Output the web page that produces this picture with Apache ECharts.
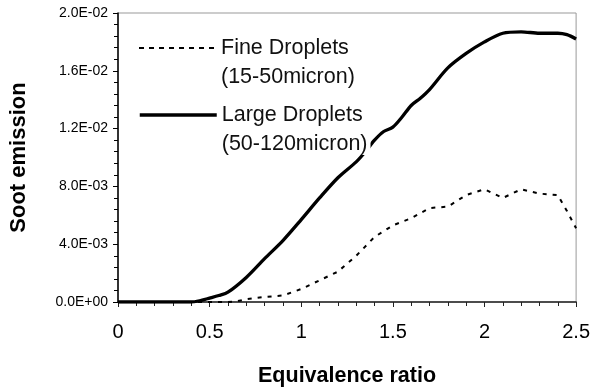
<!DOCTYPE html>
<html>
<head>
<meta charset="utf-8">
<script src="https://cdn.jsdelivr.net/npm/echarts@6/dist/echarts.min.js"></script>
<style>
  html, body { margin: 0; padding: 0; background: #fff; }
  #chart { width: 593px; height: 392px; }
</style>
</head>
<body>
<div id="chart"></div>
<script>
// equivalence ratio values for each curve
var fineX = [0, 0.1, 0.2, 0.3, 0.4, 0.5, 0.6, 0.65, 0.7, 0.8, 0.9, 1.0, 1.1, 1.2, 1.3, 1.4, 1.5, 1.6, 1.7, 1.8, 1.9, 2.0, 2.1, 2.2, 2.3, 2.4, 2.45, 2.5];
var fineY = [0, 0, 0, 0, 0, 0, 0, 0.00005, 0.0002, 0.00035, 0.00045, 0.0009, 0.0015, 0.0021, 0.0032, 0.0045, 0.0053, 0.0058, 0.0065, 0.0066, 0.0074, 0.0078, 0.0072, 0.0078, 0.0075, 0.0074, 0.0063, 0.0051];

var largeX = [0, 0.1, 0.2, 0.3, 0.4, 0.45, 0.5, 0.55, 0.6, 0.7, 0.8, 0.9, 1.0, 1.1, 1.2, 1.3, 1.35, 1.4, 1.45, 1.5, 1.55, 1.6, 1.65, 1.7, 1.8, 1.9, 2.0, 2.1, 2.2, 2.3, 2.4, 2.45, 2.5];
var largeY = [0, 0, 0, 0, 0, 0.0001, 0.00027, 0.00045, 0.00068, 0.0017, 0.0030, 0.00425, 0.0057, 0.0072, 0.0086, 0.0097, 0.0104, 0.0112, 0.0118, 0.0121, 0.0128, 0.0136, 0.0141, 0.0147, 0.0162, 0.0172, 0.0180, 0.0186, 0.0187, 0.0186, 0.0186, 0.0185, 0.0182];

var yTickLabels = ['0.0E+00', '4.0E-03', '8.0E-03', '1.2E-02', '1.6E-02', '2.0E-02'];

var fineName = 'Fine Droplets';
var largeName = 'Large Droplets';
// blank first line keeps the icon level with the first text line
var legendText = {
    'Fine Droplets': '{b| }\n{w|Fine Droplets}\n{w|(15-50micron)}',
    'Large Droplets': '{b| }\n{w|Large Droplets}\n{w|(50-120micron)}'
};

function pairs(xs, ys) {
    var out = [];
    for (var i = 0; i < xs.length; i++) {
        out.push([xs[i], ys[i]]);
    }
    return out;
}

var chart = echarts.init(document.getElementById('chart'));

var legendBase = {
    orient: 'vertical',
    left: 138,
    padding: 0,
    itemWidth: 77,
    itemHeight: 10,
    selectedMode: false,
    itemStyle: { opacity: 0 },
    formatter: function (name) { return legendText[name]; },
    textStyle: {
        fontFamily: 'Liberation Sans, Arial, sans-serif',
        fontSize: 21.5,
        lineHeight: 29,
        color: '#111',
        rich: {
            b: { fontSize: 21.5, lineHeight: 29 },
            w: { fontSize: 21.5, lineHeight: 29, backgroundColor: '#fff', padding: [0, 3, 0, 0] }
        }
    }
};

var option = {
    animation: false,
    backgroundColor: '#fff',
    textStyle: { fontFamily: 'Liberation Sans, Arial, sans-serif' },
    grid: {
        left: 110,
        right: 16,
        top: 13,
        bottom: 78,
        show: true,
        borderColor: '#999',
        borderWidth: 1
    },
    legend: [
        Object.assign({}, legendBase, {
            data: [fineName], top: 48 - 43.5,
            lineStyle: { width: 2, type: [5, 5] }
        }),
        Object.assign({}, legendBase, {
            data: [largeName], top: 115 - 43.5,
            lineStyle: { width: 3.5 }
        })
    ],
    xAxis: {
        type: 'value',
        min: 0,
        max: 2.5,
        interval: 0.5,
        name: 'Equivalence ratio',
        nameLocation: 'middle',
        nameGap: 63,
        nameTextStyle: { fontSize: 21.5, fontWeight: 'bold', color: '#000' },
        axisLine: { onZero: false, lineStyle: { color: '#222', width: 1.5 } },
        axisTick: { length: 5, lineStyle: { color: '#222' } },
        minorTick: { show: true, splitNumber: 5, length: 4, lineStyle: { color: '#222' } },
        splitLine: { show: false },
        axisLabel: { fontSize: 20, color: '#000', margin: 20 }
    },
    yAxis: {
        type: 'value',
        min: 0,
        max: 0.02,
        interval: 0.004,
        name: 'Soot emission',
        nameLocation: 'middle',
        nameGap: 88,
        nameTextStyle: { fontSize: 22, fontWeight: 'bold', color: '#000' },
        axisLine: { show: true, lineStyle: { color: '#000', width: 1.5 } },
        axisTick: { show: true, length: 5, lineStyle: { color: '#000' } },
        minorTick: { show: true, splitNumber: 5, length: 4, lineStyle: { color: '#000' } },
        splitLine: { show: false },
        axisLabel: {
            fontSize: 14,
            color: '#000',
            margin: 10,
            formatter: function (v) { return yTickLabels[Math.round(v / 0.004)]; }
        }
    },
    series: [
        {
            name: fineName,
            type: 'line',
            data: pairs(fineX, fineY),
            showSymbol: false,
            symbol: 'none',
            smooth: false,
            lineStyle: { color: '#000', width: 2, type: [4, 6] },
            itemStyle: { color: '#000' }
        },
        {
            name: largeName,
            type: 'line',
            data: pairs(largeX, largeY),
            showSymbol: false,
            symbol: 'none',
            smooth: 0.3,
            lineStyle: { color: '#000', width: 3.3 },
            itemStyle: { color: '#000' }
        }
    ]
};

chart.setOption(option);
</script>
</body>
</html>
